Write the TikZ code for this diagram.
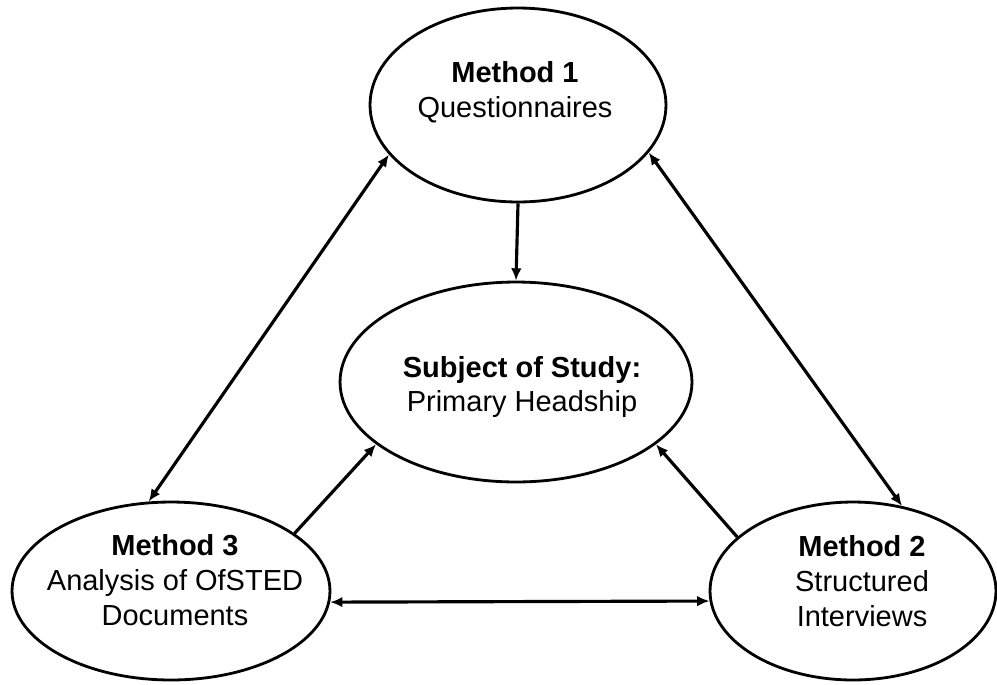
\documentclass[tikz,border=0pt]{standalone}
\usepackage{fontspec}
\setmainfont{Liberation Sans}
\usetikzlibrary{arrows.meta, shapes.geometric}

\begin{document}
\begin{tikzpicture}[x=0.02cm,y=-0.02cm,>={Latex[length=7pt,width=6pt]},
      oval/.style={ellipse,draw,line width=1.6pt,inner sep=0pt},
      txt/.style={align=center,font=\fontsize{16.5}{19.9}\selectfont},
      link/.style={line width=1.8pt}]
      \useasboundingbox (0,0) rectangle (997,684);
      \node[oval,minimum width=5.92cm,minimum height=3.88cm] (quest) at (518,105) {};
      \node[oval,minimum width=7.04cm,minimum height=4.0cm] (study) at (516,382) {};
      \node[oval,minimum width=6.36cm,minimum height=3.56cm] (docs) at (171,591) {};
      \node[oval,minimum width=5.72cm,minimum height=3.56cm] (intv) at (853,591) {};
      \node[txt] (quest-t) at (515,92) {\textbf{Method 1}\\Questionnaires};
      \node[txt] (study-t) at (522,387) {\textbf{Subject of Study:}\\Primary Headship};
      \node[txt] (docs-t) at (175,580) {\textbf{Method 3}\\Analysis of OfSTED\\Documents};
      \node[txt] (intv-t) at (862,581) {\textbf{Method 2}\\Structured\\Interviews};
      \draw[link,->] (quest.south) -- (study.north);
      \draw[link,->] (docs.25) -- (study.204);
      \draw[link,->] (intv.155) -- (study.336);
      \draw[link,<->] (quest.201) -- (docs.104);
      \draw[link,<->] (quest.340) -- (intv.60);
      \draw[link,<->] (docs.356) -- (intv.184);
    \end{tikzpicture}
\end{document}
